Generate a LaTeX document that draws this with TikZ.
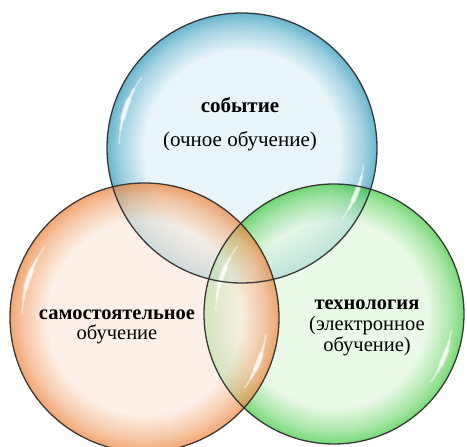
\documentclass[tikz,border=0pt]{standalone}
\usepackage{fontspec}
\setmainfont{Liberation Serif}
\newfontfamily\tnr{Liberation Serif}
\definecolor{bluein}{RGB}{224,241,246}
\definecolor{blueout}{RGB}{40,150,185}
\colorlet{bluemid}{bluein!45!blueout}
\definecolor{orin}{RGB}{251,234,222}
\definecolor{orout}{RGB}{236,128,52}
\colorlet{ormid}{orin!45!orout}
\definecolor{grin}{RGB}{225,246,222}
\definecolor{grout}{RGB}{60,200,60}
\colorlet{grmid}{grin!45!grout}
\definecolor{rim}{RGB}{40,40,40}
\pgfdeclareradialshading{bubb}{\pgfpointorigin}{color(0bp)=(bluein); color(18bp)=(bluein); color(22.5bp)=(bluemid); color(25bp)=(blueout); color(50bp)=(blueout)}
\pgfdeclareradialshading{bubo}{\pgfpointorigin}{color(0bp)=(orin); color(18bp)=(orin); color(22.5bp)=(ormid); color(25bp)=(orout); color(50bp)=(orout)}
\pgfdeclareradialshading{bubg}{\pgfpointorigin}{color(0bp)=(grin); color(18bp)=(grin); color(22.5bp)=(grmid); color(25bp)=(grout); color(50bp)=(grout)}
\newcommand\bubhl[4]{%
  \pgfmathsetmacro\hlr{#2*0.91}%
  \foreach \hw/\hf/\ho in {1.5/0/0.5, 3/0.2/0.5, 5/0.36/0.6}{%
    \pgfmathsetmacro\hla{#3+\hf*(#4-#3)}%
    \pgfmathsetmacro\hlb{#4-\hf*(#4-#3)}%
    \draw[white, line width=\hw pt, opacity=\ho, line cap=round]
      (#1) ++(\hla:\hlr) arc[start angle=\hla, end angle=\hlb, radius=\hlr];
  }}
\begin{document}
\begin{tikzpicture}[x=1pt,y=1pt,
  lbl/.style={font=\tnr\fontsize{21}{21}\selectfont, inner sep=0pt, anchor=base, align=center},
  rimline/.style={draw=rim, line width=1.3pt, opacity=0.9}]
\useasboundingbox (0,0) rectangle (467,447);
\coordinate (cb) at (242,299);
\coordinate (co) at (144.5,129.5);
\coordinate (cg) at (334,133);
\shade[shading=bubb, opacity=0.7] (cb) circle[radius=135];
\shade[shading=bubg, opacity=0.7] (cg) circle[radius=130];
\shade[shading=bubo, opacity=0.7] (co) circle[radius=134.5];
\bubhl{cb}{135}{145}{178}
\bubhl{cb}{135}{-35}{-8}
\bubhl{co}{134.5}{145}{178}
\bubhl{co}{134.5}{-35}{-8}
\bubhl{cg}{130}{145}{178}
\bubhl{cg}{130}{-35}{-8}
\draw[rimline] (co) circle[radius=134.5];
\draw[rimline] (cb) circle[radius=135];
\draw[rimline] (cg) circle[radius=130];
\node[lbl] (top) at (240,300) {\textbf{событие}\\[13pt](очное обучение)};
\node[lbl, font=\tnr\fontsize{20.5}{20}\selectfont] (left) at (117,107) {\textbf{самостоятельное}\\обучение};
\node[lbl, font=\tnr\fontsize{20.5}{21}\selectfont] (right) at (367,95) {\textbf{технология}\\(электронное\\обучение)};
\end{tikzpicture}
\end{document}
